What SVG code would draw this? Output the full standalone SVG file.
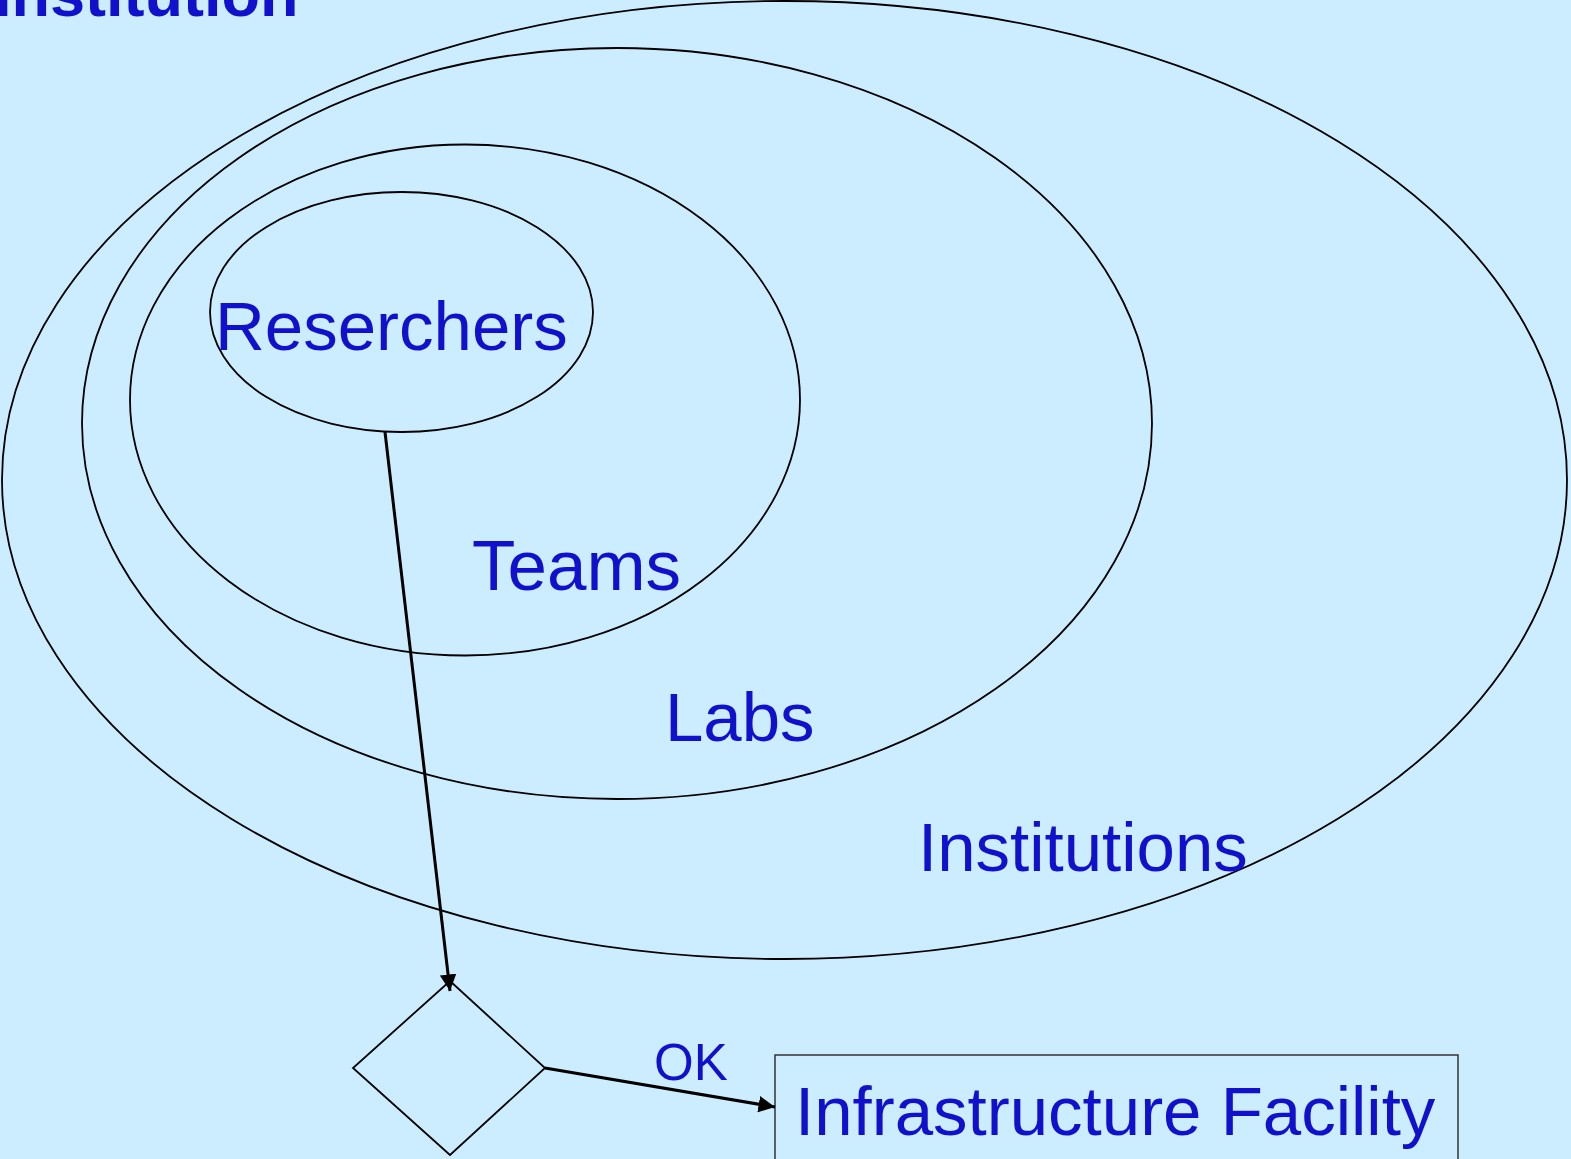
<svg xmlns="http://www.w3.org/2000/svg" width="1571" height="1159" viewBox="0 0 1571 1159">
  <style>
    .bg { fill: #CCECFF; }
    .set { fill: none; stroke: #000; stroke-width: 1.8; }
    .shape { fill: none; stroke: #000; stroke-width: 1.8; }
    .box { fill: none; stroke: #333; stroke-width: 1.5; }
    .lbl { font-family: "Liberation Sans", Arial, sans-serif; fill: #1111CC; }
    .big { font-size: 69px; }
    .edge { fill: none; stroke: #000; stroke-width: 3; marker-end: url(#arrow); }
  </style>
  <defs>
    <marker id="arrow" viewBox="0 0 10 10" refX="10" refY="5" markerWidth="5.5" markerHeight="5.5" orient="auto" markerUnits="strokeWidth">
      <path d="M0,0 L10,5 L0,10 z" fill="#000"/>
    </marker>
  </defs>

  <rect class="bg" x="0" y="0" width="1571" height="1159"/>

  <!-- title, partly above the top edge -->
  <text class="lbl" x="-6" y="16" font-size="63" font-weight="bold">Institution</text>

  <g id="institutions">
    <ellipse class="set" cx="784.5" cy="480" rx="782.5" ry="479"/>
    <text class="lbl big" x="918" y="871">Institutions</text>
  </g>
  <g id="labs">
    <ellipse class="set" cx="617" cy="423.5" rx="535" ry="375.5"/>
    <text class="lbl big" x="665" y="741">Labs</text>
  </g>
  <g id="teams">
    <ellipse class="set" cx="465" cy="400" rx="335" ry="255.5"/>
    <text class="lbl" x="472" y="590" font-size="71">Teams</text>
  </g>
  <g id="researchers">
    <ellipse class="set" cx="401.5" cy="312" rx="191.5" ry="120"/>
    <text class="lbl big" x="215" y="350">Reserchers</text>
  </g>

  <g id="decision">
    <polygon class="shape" points="450,981 545,1068 450,1155 353,1068"/>
  </g>

  <g id="facility">
    <rect class="box" x="775" y="1055" width="683" height="120"/>
    <text class="lbl big" x="795" y="1135">Infrastructure Facility</text>
  </g>

  <g id="connectors">
    <line class="edge" x1="385" y1="432" x2="450" y2="991"/>
    <line class="edge" x1="545" y1="1068" x2="775" y2="1107"/>
    <text class="lbl" x="654" y="1080" font-size="51">OK</text>
  </g>
</svg>
